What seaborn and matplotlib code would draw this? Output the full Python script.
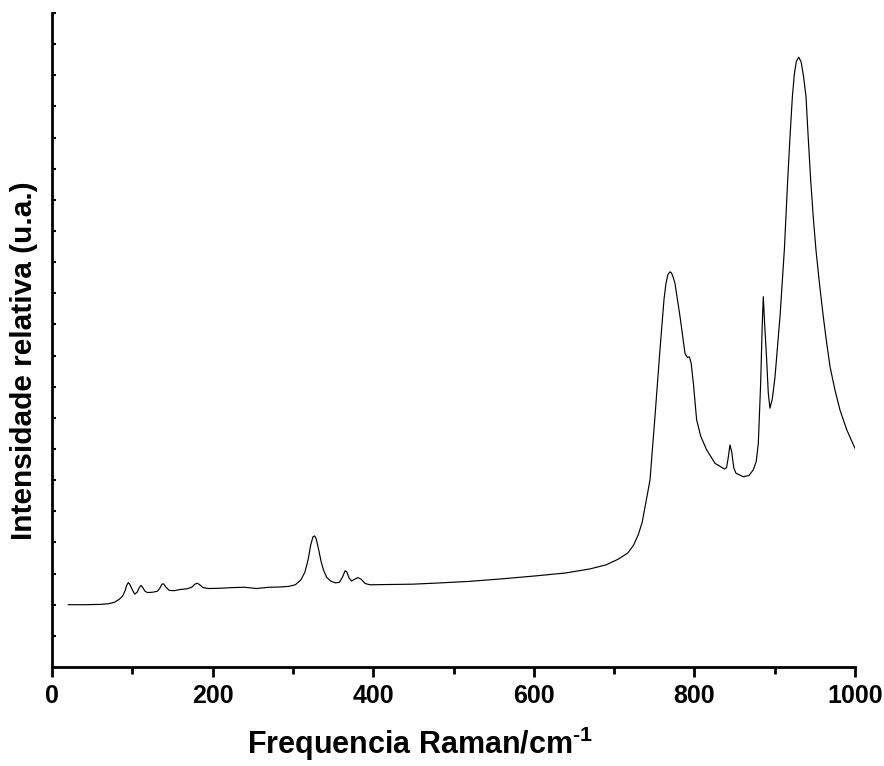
import matplotlib
matplotlib.use("Agg")
import matplotlib.pyplot as plt
from matplotlib.ticker import MultipleLocator, NullFormatter
import pandas as pd
import seaborn as sns

# Raman shift (cm^-1) and relative intensity (arbitrary units)
raman_shift = [
    20, 40, 60, 70, 78, 84, 88, 91, 93, 95, 97, 100, 103, 106, 109, 111, 113,
    116, 119, 125, 131, 134, 137, 139, 142, 146, 152, 160, 168, 174, 178, 181,
    184, 188, 195, 210, 225, 240, 255, 270, 285, 295, 303, 310, 315, 319, 322,
    325, 327, 329, 332, 335, 338, 342, 347, 353, 358, 362, 365, 367, 370, 373,
    377, 381, 385, 390, 396, 420, 450, 483, 520, 560, 600, 640, 670, 690, 705,
    717, 724, 730, 735, 739, 744.7, 750.9, 757.1, 762.1, 764.5, 767, 769.6,
    771.5, 773.5, 775.8, 782.1, 788.3, 791.2, 793.7, 796, 798.7, 802.8, 808,
    815.3, 825.7, 837.3, 840, 842, 844.3, 846.5, 849, 851.8, 860.9, 868, 873.3,
    877, 879.6, 882.5, 884.5, 885.8, 887.5, 890, 892, 894.1, 897, 900.4, 906.6,
    912, 916.2, 919, 922, 924.5, 927, 930, 933, 936, 939, 941.5, 944.8, 948,
    951.4, 956, 960.5, 964.5, 968.9, 975, 981.3, 990, 1000,
]
intensity = [
    200, 200, 201, 203, 208, 218, 228, 245, 262, 271, 265, 248, 234, 240, 256,
    262, 255, 243, 239, 240, 243, 252, 266, 267, 256, 246, 245, 249, 251, 256,
    266, 269, 264, 255, 252, 253, 255, 256, 252, 256, 257, 259, 264, 280, 305,
    345, 390, 418, 421, 412, 378, 340, 312, 288, 276, 270, 272, 290, 309, 306,
    286, 276, 282, 287, 282, 268, 264, 265, 266, 270, 275, 283, 292, 302, 315,
    328, 346, 366, 390, 424, 465, 520, 600, 804, 1018, 1179, 1230, 1260, 1269,
    1265, 1252, 1232, 1125, 1007, 994, 996, 975, 911, 793, 740, 697, 654, 636,
    640, 670, 713, 690, 640, 622, 611, 615, 633, 660, 718, 911, 1100, 1189,
    1100, 986, 880, 831, 860, 932, 1125, 1339, 1564, 1700, 1831, 1905, 1945,
    1958, 1942, 1895, 1831, 1711, 1564, 1445, 1339, 1225, 1125, 1045, 964,
    890, 825, 760, 702,
]

x_major = [0, 200, 400, 600, 800, 1000]

spectrum = pd.DataFrame({"shift": raman_shift, "intensity": intensity})

sns.set_style("ticks")
plt.rcParams["font.family"] = ["Liberation Sans", "DejaVu Sans"]
plt.rcParams["font.weight"] = "bold"
plt.rcParams["mathtext.fontset"] = "custom"
plt.rcParams["mathtext.rm"] = "Liberation Sans:bold"
plt.rcParams["mathtext.bf"] = "Liberation Sans:bold"
plt.rcParams["mathtext.default"] = "rm"
for key in ("text.color", "axes.labelcolor", "axes.edgecolor",
            "xtick.color", "ytick.color"):
    plt.rcParams[key] = "black"

fig = plt.figure(figsize=(8.84, 7.66), dpi=100)
ax = fig.add_axes([52 / 884, 99 / 766, 803 / 884, 654 / 766])

sns.lineplot(data=spectrum, x="shift", y="intensity", ax=ax,
             color="black", linewidth=0.85, sort=False)

ax.set_xlim(0, 1000)
ax.set_ylim(0, 2100)

sns.despine(ax=ax)
for side in ("left", "bottom"):
    ax.spines[side].set_linewidth(2.0)

ax.set_xticks(x_major)
ax.set_xticklabels([str(v) for v in x_major], fontsize=18, fontweight="bold")
ax.xaxis.set_minor_locator(MultipleLocator(100))
ax.tick_params(axis="x", which="major", direction="out", length=7, width=2, pad=5)
ax.tick_params(axis="x", which="minor", direction="out", length=5, width=2)

ax.yaxis.set_major_locator(MultipleLocator(100))
ax.yaxis.set_major_formatter(NullFormatter())
ax.tick_params(axis="y", which="major", direction="in", length=3, width=1.5)

ax.set_xlabel(r"Frequencia Raman/cm$^{\text{-}1}$", fontsize=22, fontweight="bold")
ax.xaxis.set_label_coords(368 / 803, -96 / 654)
ax.xaxis.label.set_va("bottom")
ax.set_ylabel("Intensidade relativa (u.a.)", fontsize=21.5, fontweight="bold")
ax.yaxis.set_label_coords(-14 / 803, (667 - 361) / 654)

fig.savefig("out.png", dpi=100)
